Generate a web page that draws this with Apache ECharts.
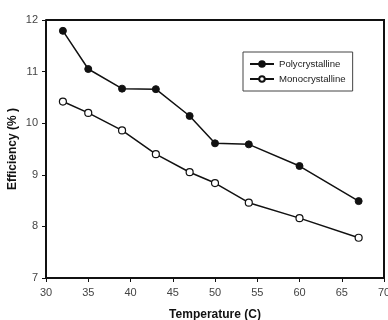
<!DOCTYPE html>
<html>
<head>
<meta charset="utf-8">
<script src="https://cdn.jsdelivr.net/npm/echarts@6/dist/echarts.min.js"></script>
<style>
  html, body { margin: 0; padding: 0; background: #fff; }
  #chart { width: 388px; height: 320px; }
</style>
</head>
<body>
<div id="chart"></div>
<script>
// temperatures in C
const temperature = [32, 35, 39, 43, 47, 50, 54, 60, 67];
// efficiency in %
const polyValues = [11.79, 11.05, 10.67, 10.66, 10.14, 9.61, 9.59, 9.17, 8.49];
const monoValues = [10.42, 10.20, 9.86, 9.40, 9.05, 8.84, 8.46, 8.16, 7.78];

const xTicks = [30, 35, 40, 45, 50, 55, 60, 65, 70];
const yTicks = [7, 8, 9, 10, 11, 12];

const font = "Liberation Sans, Arial, sans-serif";

const chart = echarts.init(document.getElementById("chart"));

function pairs(xs, ys) {
  return xs.map((x, i) => [x, ys[i]]);
}

chart.setOption({
  animation: false,
  grid: {
    left: 46,
    right: 4,
    top: 20,
    bottom: 42,
    outerBoundsMode: "none",
    containLabel: false,
  },
  legend: {
    orient: "vertical",
    left: 243,
    top: 52,
    padding: [6, 7, 6, 6],
    borderColor: "#444",
    borderWidth: 1,
    itemWidth: 24,
    itemHeight: 7,
    itemGap: 3,
    textStyle: { fontFamily: font, fontSize: 9.6, color: "#222", lineHeight: 12 },
    data: ["Polycrystalline", "Monocrystalline"],
  },
  xAxis: {
    type: "value",
    min: xTicks[0],
    max: xTicks[xTicks.length - 1],
    interval: 5,
    name: "Temperature (C)",
    nameLocation: "middle",
    nameGap: 31,
    nameMoveOverlap: false,
    nameTextStyle: { fontFamily: font, fontSize: 12, fontWeight: "bold", color: "#111" },
    axisLine: { show: true, lineStyle: { color: "#111", width: 2 } },
    axisTick: { show: true, length: 4, lineStyle: { color: "#111", width: 1 } },
    axisLabel: { fontFamily: font, fontSize: 11, color: "#444", margin: 9 },
    splitLine: { show: false },
  },
  yAxis: {
    type: "value",
    min: yTicks[0],
    max: yTicks[yTicks.length - 1],
    interval: 1,
    name: "Efficiency (% )",
    nameLocation: "middle",
    nameGap: 27,
    nameMoveOverlap: false,
    nameTextStyle: { fontFamily: font, fontSize: 12, fontWeight: "bold", color: "#111" },
    axisLine: { show: true, lineStyle: { color: "#111", width: 2 } },
    axisTick: { show: true, length: 4, lineStyle: { color: "#111", width: 1 } },
    axisLabel: { fontFamily: font, fontSize: 11, color: "#444", margin: 8 },
    splitLine: { show: false },
  },
  series: [
    {
      name: "Polycrystalline",
      type: "line",
      data: pairs(temperature, polyValues),
      symbol: "circle",
      symbolSize: 7,
      lineStyle: { color: "#111", width: 1.5 },
      itemStyle: { color: "#111", borderColor: "#111", borderWidth: 1 },
      z: 3,
    },
    {
      name: "Monocrystalline",
      type: "line",
      data: pairs(temperature, monoValues),
      symbol: "circle",
      symbolSize: 7,
      lineStyle: { color: "#111", width: 1.5 },
      itemStyle: { color: "#fff", borderColor: "#111", borderWidth: 1.2 },
      z: 3,
    },
  ],
});

// frame on top and right, placed via the grid's own coordinate conversion
const tl = chart.convertToPixel({ gridIndex: 0 }, [xTicks[0], yTicks[yTicks.length - 1]]);
const br = chart.convertToPixel({ gridIndex: 0 }, [xTicks[xTicks.length - 1], yTicks[0]]);
chart.setOption({
  graphic: [
    {
      type: "polyline",
      shape: { points: [[tl[0], tl[1]], [br[0], tl[1]], [br[0], br[1]]] },
      style: { stroke: "#111", lineWidth: 2, fill: null },
      silent: true,
    },
  ],
});
</script>
</body>
</html>
